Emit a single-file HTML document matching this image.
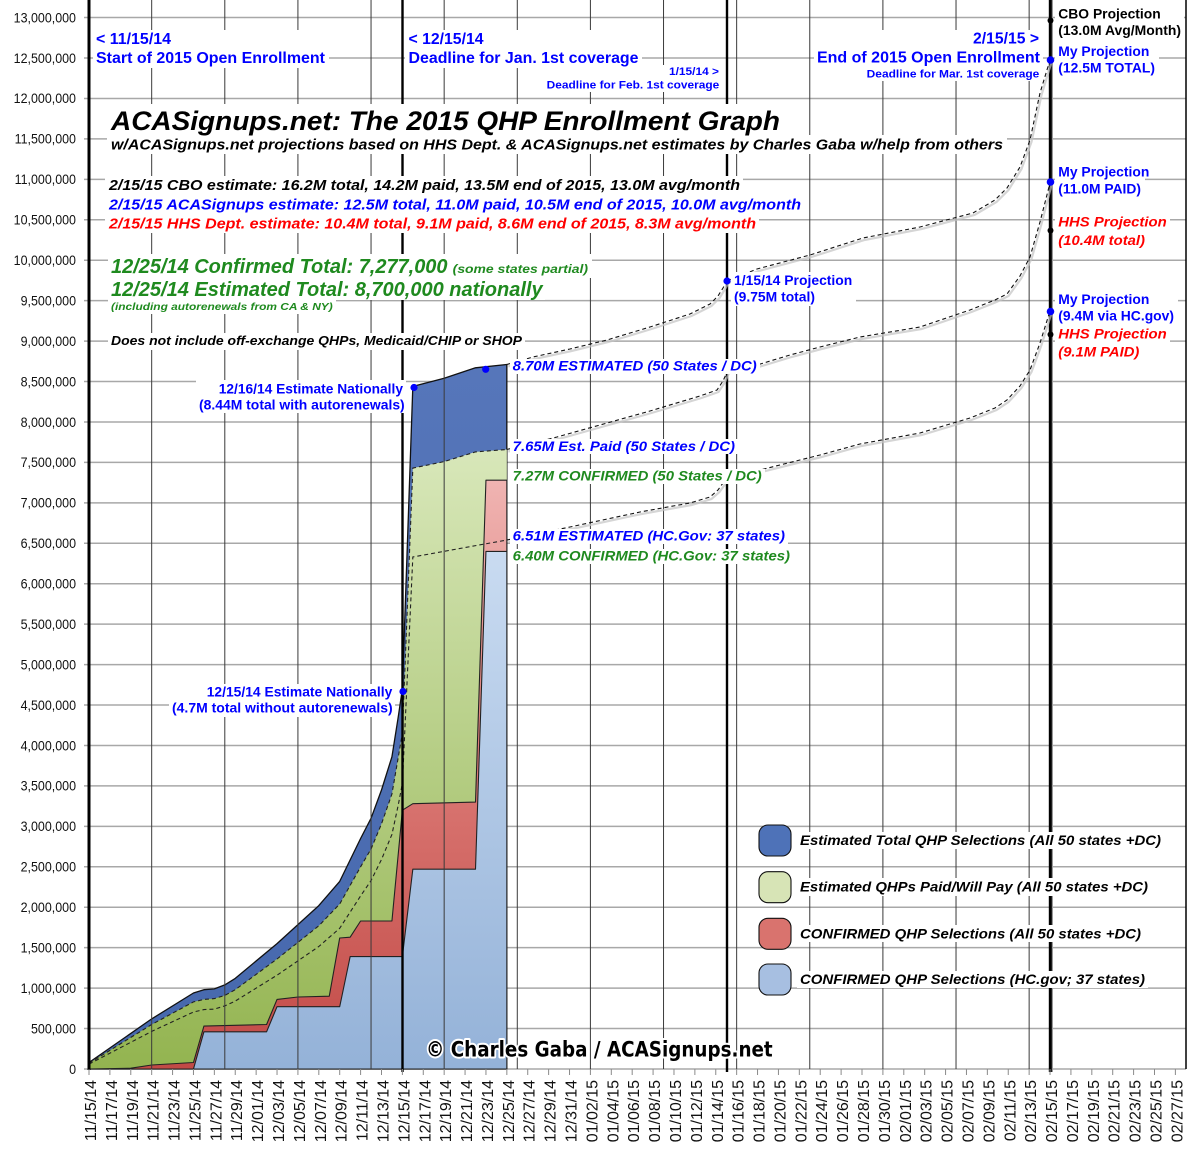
<!DOCTYPE html>
<html><head><meta charset="utf-8"><style>
html,body{margin:0;padding:0;background:#fff;}
svg{display:block;}
text{font-family:"Liberation Sans",Arial,sans-serif;}
.b{font-weight:bold;}
.bi{font-weight:bold;font-style:italic;}
.blue{fill:#0000ff;}
.red{fill:#ff0000;}
.grn{fill:#1f8a1f;}
.blk{fill:#000;}
</style></head><body>
<svg width="1200" height="1150" viewBox="0 0 1200 1150" xmlns="http://www.w3.org/2000/svg">
<defs>
<linearGradient id="gG" gradientUnits="userSpaceOnUse" x1="0" y1="440" x2="0" y2="1069">
<stop offset="0" stop-color="#d9e8bb"/><stop offset="1" stop-color="#93b450"/></linearGradient>
<linearGradient id="gR" gradientUnits="userSpaceOnUse" x1="0" y1="480" x2="0" y2="1069">
<stop offset="0" stop-color="#f0b4b2"/><stop offset="0.45" stop-color="#dc7b77"/><stop offset="1" stop-color="#c24a46"/></linearGradient>
<linearGradient id="gL" gradientUnits="userSpaceOnUse" x1="0" y1="550" x2="0" y2="1069">
<stop offset="0" stop-color="#c9dbf1"/><stop offset="1" stop-color="#94b2d8"/></linearGradient>
<linearGradient id="gB" gradientUnits="userSpaceOnUse" x1="0" y1="360" x2="0" y2="1069">
<stop offset="0" stop-color="#5676ba"/><stop offset="1" stop-color="#4668ad"/></linearGradient>
</defs>
<rect width="1200" height="1150" fill="#fff"/>

<!-- horizontal gridlines -->
<g stroke="#a8a8a8" stroke-width="1.5">
<line x1="84" x2="1186" y1="1069" y2="1069"/>
<line x1="84" x2="1186" y1="1028.56" y2="1028.56"/>
<line x1="84" x2="1186" y1="988.12" y2="988.12"/>
<line x1="84" x2="1186" y1="947.68" y2="947.68"/>
<line x1="84" x2="1186" y1="907.24" y2="907.24"/>
<line x1="84" x2="1186" y1="866.8" y2="866.8"/>
<line x1="84" x2="1186" y1="826.36" y2="826.36"/>
<line x1="84" x2="1186" y1="785.92" y2="785.92"/>
<line x1="84" x2="1186" y1="745.48" y2="745.48"/>
<line x1="84" x2="1186" y1="705.04" y2="705.04"/>
<line x1="84" x2="1186" y1="664.6" y2="664.6"/>
<line x1="84" x2="1186" y1="624.16" y2="624.16"/>
<line x1="84" x2="1186" y1="583.72" y2="583.72"/>
<line x1="84" x2="1186" y1="543.28" y2="543.28"/>
<line x1="84" x2="1186" y1="502.84" y2="502.84"/>
<line x1="84" x2="1186" y1="462.4" y2="462.4"/>
<line x1="84" x2="1186" y1="421.96" y2="421.96"/>
<line x1="84" x2="1186" y1="381.52" y2="381.52"/>
<line x1="84" x2="1186" y1="341.08" y2="341.08"/>
<line x1="84" x2="1186" y1="300.64" y2="300.64"/>
<line x1="84" x2="1186" y1="260.2" y2="260.2"/>
<line x1="84" x2="1186" y1="219.76" y2="219.76"/>
<line x1="84" x2="1186" y1="179.32" y2="179.32"/>
<line x1="84" x2="1186" y1="138.88" y2="138.88"/>
<line x1="84" x2="1186" y1="98.44" y2="98.44"/>
<line x1="84" x2="1186" y1="58" y2="58"/>
<line x1="84" x2="1186" y1="17.56" y2="17.56"/>
</g>

<!-- y labels -->
<g transform="translate(76,0) scale(0.89,1)" font-size="14" text-anchor="end" fill="#111">
<text x="0" y="1073.8">0</text>
<text x="0" y="1033.4">500,000</text>
<text x="0" y="992.9">1,000,000</text>
<text x="0" y="952.5">1,500,000</text>
<text x="0" y="912">2,000,000</text>
<text x="0" y="871.6">2,500,000</text>
<text x="0" y="831.2">3,000,000</text>
<text x="0" y="790.7">3,500,000</text>
<text x="0" y="750.3">4,000,000</text>
<text x="0" y="709.8">4,500,000</text>
<text x="0" y="669.4">5,000,000</text>
<text x="0" y="629">5,500,000</text>
<text x="0" y="588.5">6,000,000</text>
<text x="0" y="548.1">6,500,000</text>
<text x="0" y="507.6">7,000,000</text>
<text x="0" y="467.2">7,500,000</text>
<text x="0" y="426.8">8,000,000</text>
<text x="0" y="386.3">8,500,000</text>
<text x="0" y="345.9">9,000,000</text>
<text x="0" y="305.4">9,500,000</text>
<text x="0" y="265">10,000,000</text>
<text x="0" y="224.6">10,500,000</text>
<text x="0" y="184.1">11,000,000</text>
<text x="0" y="143.7">11,500,000</text>
<text x="0" y="103.2">12,000,000</text>
<text x="0" y="62.8">12,500,000</text>
<text x="0" y="22.4">13,000,000</text>
</g>

<!-- areas -->
<polygon fill="url(#gB)" stroke="#111" stroke-width="1.3" stroke-linejoin="round" points="89,1069 89,1062.5 151.68,1018.9 193.46,993.0 203.91,989.7 214.35,988.9 224.80,984.9 235.24,978.4 277.03,943.6 318.81,905.6 339.70,881.4 360.60,838.5 371.04,818.3 381.49,790.0 391.93,756.8 398.2,717.2 402.38,688.9 412.83,386.4 444.16,378.3 475.50,367.8 506.84,364.5 506.84,1069"/>
<polygon fill="url(#gG)" stroke="none" points="89,1069 89,1063.3 151.68,1024.5 193.46,1001.9 203.91,999.4 214.35,998.6 224.80,995.4 235.24,989.7 277.03,959.0 318.81,925.8 339.70,904.0 360.60,866.8 371.04,849.0 381.49,823.9 391.93,794.0 398.2,757.6 402.38,733.3 412.83,468.1 444.16,461.6 475.50,451.9 506.84,449.5 506.84,1069"/>
<polyline fill="none" stroke="#222" stroke-width="1.1" stroke-dasharray="4,3" points="89,1063.3 151.68,1024.5 193.46,1001.9 203.91,999.4 214.35,998.6 224.80,995.4 235.24,989.7 277.03,959.0 318.81,925.8 339.70,904.0 360.60,866.8 371.04,849.0 381.49,823.9 391.93,794.0 398.2,757.6 402.38,733.3 412.83,468.1 444.16,461.6 475.50,451.9 506.84,449.5"/>
<polygon fill="url(#gR)" stroke="#222" stroke-width="1.1" stroke-linejoin="round" points="89,1069 130.78,1068.2 151.68,1065 193.46,1062.5 203.91,1026.1 266.58,1024.5 277.03,999.4 297.92,997.0 329.26,996.2 339.70,938.0 350.15,937.2 360.60,921.0 391.93,921.0 402.38,810.2 412.83,803.7 475.50,802.1 485.95,480.2 506.84,480.2 506.84,1069"/>
<polygon fill="url(#gL)" stroke="#222" stroke-width="1.1" stroke-linejoin="round" points="193.46,1069 203.91,1031.8 266.58,1031.8 277.03,1006.7 339.70,1006.7 350.15,956.6 402.38,956.6 412.83,869.2 475.50,869.2 485.95,551.4 506.84,551.4 506.84,1069"/>
<polyline fill="none" stroke="#222" stroke-width="1.1" stroke-dasharray="4,3" points="89,1064.1 151.68,1031.4 193.46,1012.0 203.91,1009.6 214.35,1009.1 224.80,1005.9 235.24,1001.1 277.03,975.2 318.81,946.5 339.70,928.3 360.60,895.9 371.04,880.6 381.49,859.5 391.93,834.4 398.2,805.3 402.38,783.5 412.83,557.0 506.84,540.0"/>

<!-- vertical weekly gridlines -->
<g stroke="#3a3a3a" stroke-width="1">
<line x1="151.68" x2="151.68" y1="0" y2="1069"/>
<line x1="224.8" x2="224.8" y1="0" y2="1069"/>
<line x1="297.92" x2="297.92" y1="0" y2="1069"/>
<line x1="371.04" x2="371.04" y1="0" y2="1069"/>
<line x1="444.16" x2="444.16" y1="0" y2="1069"/>
<line x1="517.29" x2="517.29" y1="0" y2="1069"/>
<line x1="590.41" x2="590.41" y1="0" y2="1069"/>
<line x1="663.53" x2="663.53" y1="0" y2="1069"/>
<line x1="736.65" x2="736.65" y1="0" y2="1069"/>
<line x1="809.77" x2="809.77" y1="0" y2="1069"/>
<line x1="882.9" x2="882.9" y1="0" y2="1069"/>
<line x1="956.02" x2="956.02" y1="0" y2="1069"/>
<line x1="1029.14" x2="1029.14" y1="0" y2="1069"/>
</g>
<!-- thick lines -->
<line x1="89" x2="89" y1="0" y2="1070" stroke="#000" stroke-width="3"/>
<line x1="402.5" x2="402.5" y1="0" y2="1072" stroke="#000" stroke-width="2.4"/>
<line x1="727" x2="727" y1="0" y2="1072" stroke="#000" stroke-width="2.4"/>
<line x1="1052" x2="1052" y1="0" y2="1072" stroke="#999" stroke-width="2"/>
<line x1="1050.3" x2="1050.3" y1="0" y2="1072" stroke="#000" stroke-width="3"/>
<line x1="1186" x2="1186" y1="0" y2="1069" stroke="#000" stroke-width="1.5"/>

<!-- projection dashed lines -->
<g fill="none" stroke="#c4c4c4" stroke-width="2.2" transform="translate(1.5,2)" opacity="0.7">
<path d="M506.8,364.5 L533,357 L570,349 L607,340 L650,327 L690,314 L710,304 L718,296 L723,288 L727,281 L757,269 L810,255 L863,238 L920,227 L973,213 L995,200 L1007,188 L1020,167 L1030,140 L1040,93 L1050,60"/>
<path d="M506.8,449.5 L557,437 L600,425 L650,411 L700,396 L717,390 L723,381 L728,370 L757,365 L790,355 L820,347 L860,337 L920,327 L970,310 L995,300 L1007,294 L1020,276 L1030,257 L1040,222 L1050,183"/>
<path d="M506.8,540 L570,527 L640,512 L690,503 L710,497 L718,490 L723,483 L728,473 L760,470 L820,455 L860,444 L920,433 L970,418 L995,408 L1007,400 L1020,386 L1030,370 L1040,343 L1050,311"/>
</g>
<g fill="none" stroke="#111" stroke-width="1.1" stroke-dasharray="4,3">
<path d="M506.8,364.5 L533,357 L570,349 L607,340 L650,327 L690,314 L710,304 L718,296 L723,288 L727,281 L757,269 L810,255 L863,238 L920,227 L973,213 L995,200 L1007,188 L1020,167 L1030,140 L1040,93 L1050,60"/>
<path d="M506.8,449.5 L557,437 L600,425 L650,411 L700,396 L717,390 L723,381 L728,370 L757,365 L790,355 L820,347 L860,337 L920,327 L970,310 L995,300 L1007,294 L1020,276 L1030,257 L1040,222 L1050,183"/>
<path d="M506.8,540 L570,527 L640,512 L690,503 L710,497 L718,490 L723,483 L728,473 L760,470 L820,455 L860,444 L920,433 L970,418 L995,408 L1007,400 L1020,386 L1030,370 L1040,343 L1050,311"/>
</g>

<!-- x ticks -->
<g stroke="#8a8a8a" stroke-width="1">
<line x1="89" x2="89" y1="1069" y2="1075"/><line x1="109.89" x2="109.89" y1="1069" y2="1075"/><line x1="130.78" x2="130.78" y1="1069" y2="1075"/><line x1="151.68" x2="151.68" y1="1069" y2="1075"/><line x1="172.57" x2="172.57" y1="1069" y2="1075"/><line x1="193.46" x2="193.46" y1="1069" y2="1075"/><line x1="214.35" x2="214.35" y1="1069" y2="1075"/><line x1="235.24" x2="235.24" y1="1069" y2="1075"/><line x1="256.14" x2="256.14" y1="1069" y2="1075"/><line x1="277.03" x2="277.03" y1="1069" y2="1075"/><line x1="297.92" x2="297.92" y1="1069" y2="1075"/><line x1="318.81" x2="318.81" y1="1069" y2="1075"/><line x1="339.7" x2="339.7" y1="1069" y2="1075"/><line x1="360.6" x2="360.6" y1="1069" y2="1075"/><line x1="381.49" x2="381.49" y1="1069" y2="1075"/><line x1="402.38" x2="402.38" y1="1069" y2="1075"/><line x1="423.27" x2="423.27" y1="1069" y2="1075"/><line x1="444.16" x2="444.16" y1="1069" y2="1075"/><line x1="465.06" x2="465.06" y1="1069" y2="1075"/><line x1="485.95" x2="485.95" y1="1069" y2="1075"/><line x1="506.84" x2="506.84" y1="1069" y2="1075"/><line x1="527.73" x2="527.73" y1="1069" y2="1075"/><line x1="548.62" x2="548.62" y1="1069" y2="1075"/><line x1="569.52" x2="569.52" y1="1069" y2="1075"/><line x1="590.41" x2="590.41" y1="1069" y2="1075"/><line x1="611.3" x2="611.3" y1="1069" y2="1075"/><line x1="632.19" x2="632.19" y1="1069" y2="1075"/><line x1="653.08" x2="653.08" y1="1069" y2="1075"/><line x1="673.98" x2="673.98" y1="1069" y2="1075"/><line x1="694.87" x2="694.87" y1="1069" y2="1075"/><line x1="715.76" x2="715.76" y1="1069" y2="1075"/><line x1="736.65" x2="736.65" y1="1069" y2="1075"/><line x1="757.54" x2="757.54" y1="1069" y2="1075"/><line x1="778.44" x2="778.44" y1="1069" y2="1075"/><line x1="799.33" x2="799.33" y1="1069" y2="1075"/><line x1="820.22" x2="820.22" y1="1069" y2="1075"/><line x1="841.11" x2="841.11" y1="1069" y2="1075"/><line x1="862" x2="862" y1="1069" y2="1075"/><line x1="882.9" x2="882.9" y1="1069" y2="1075"/><line x1="903.79" x2="903.79" y1="1069" y2="1075"/><line x1="924.68" x2="924.68" y1="1069" y2="1075"/><line x1="945.57" x2="945.57" y1="1069" y2="1075"/><line x1="966.46" x2="966.46" y1="1069" y2="1075"/><line x1="987.36" x2="987.36" y1="1069" y2="1075"/><line x1="1008.25" x2="1008.25" y1="1069" y2="1075"/><line x1="1029.14" x2="1029.14" y1="1069" y2="1075"/><line x1="1050.03" x2="1050.03" y1="1069" y2="1075"/><line x1="1070.92" x2="1070.92" y1="1069" y2="1075"/><line x1="1091.82" x2="1091.82" y1="1069" y2="1075"/><line x1="1112.71" x2="1112.71" y1="1069" y2="1075"/><line x1="1133.6" x2="1133.6" y1="1069" y2="1075"/><line x1="1154.49" x2="1154.49" y1="1069" y2="1075"/><line x1="1175.38" x2="1175.38" y1="1069" y2="1075"/>
</g>

<!-- x labels -->
<g font-size="16" text-anchor="end" fill="#111">
<text transform="translate(96,1080) rotate(-90)">11/15/14</text>
<text transform="translate(116.89,1080) rotate(-90)">11/17/14</text>
<text transform="translate(137.78,1080) rotate(-90)">11/19/14</text>
<text transform="translate(158.68,1080) rotate(-90)">11/21/14</text>
<text transform="translate(179.57,1080) rotate(-90)">11/23/14</text>
<text transform="translate(200.46,1080) rotate(-90)">11/25/14</text>
<text transform="translate(221.35,1080) rotate(-90)">11/27/14</text>
<text transform="translate(242.24,1080) rotate(-90)">11/29/14</text>
<text transform="translate(263.14,1080) rotate(-90)">12/01/14</text>
<text transform="translate(284.03,1080) rotate(-90)">12/03/14</text>
<text transform="translate(304.92,1080) rotate(-90)">12/05/14</text>
<text transform="translate(325.81,1080) rotate(-90)">12/07/14</text>
<text transform="translate(346.7,1080) rotate(-90)">12/09/14</text>
<text transform="translate(367.6,1080) rotate(-90)">12/11/14</text>
<text transform="translate(388.49,1080) rotate(-90)">12/13/14</text>
<text transform="translate(409.38,1080) rotate(-90)">12/15/14</text>
<text transform="translate(430.27,1080) rotate(-90)">12/17/14</text>
<text transform="translate(451.16,1080) rotate(-90)">12/19/14</text>
<text transform="translate(472.06,1080) rotate(-90)">12/21/14</text>
<text transform="translate(492.95,1080) rotate(-90)">12/23/14</text>
<text transform="translate(513.84,1080) rotate(-90)">12/25/14</text>
<text transform="translate(534.73,1080) rotate(-90)">12/27/14</text>
<text transform="translate(555.62,1080) rotate(-90)">12/29/14</text>
<text transform="translate(576.52,1080) rotate(-90)">12/31/14</text>
<text transform="translate(597.41,1080) rotate(-90)">01/02/15</text>
<text transform="translate(618.3,1080) rotate(-90)">01/04/15</text>
<text transform="translate(639.19,1080) rotate(-90)">01/06/15</text>
<text transform="translate(660.08,1080) rotate(-90)">01/08/15</text>
<text transform="translate(680.98,1080) rotate(-90)">01/10/15</text>
<text transform="translate(701.87,1080) rotate(-90)">01/12/15</text>
<text transform="translate(722.76,1080) rotate(-90)">01/14/15</text>
<text transform="translate(743.65,1080) rotate(-90)">01/16/15</text>
<text transform="translate(764.54,1080) rotate(-90)">01/18/15</text>
<text transform="translate(785.44,1080) rotate(-90)">01/20/15</text>
<text transform="translate(806.33,1080) rotate(-90)">01/22/15</text>
<text transform="translate(827.22,1080) rotate(-90)">01/24/15</text>
<text transform="translate(848.11,1080) rotate(-90)">01/26/15</text>
<text transform="translate(869,1080) rotate(-90)">01/28/15</text>
<text transform="translate(889.9,1080) rotate(-90)">01/30/15</text>
<text transform="translate(910.79,1080) rotate(-90)">02/01/15</text>
<text transform="translate(931.68,1080) rotate(-90)">02/03/15</text>
<text transform="translate(952.57,1080) rotate(-90)">02/05/15</text>
<text transform="translate(973.46,1080) rotate(-90)">02/07/15</text>
<text transform="translate(994.36,1080) rotate(-90)">02/09/15</text>
<text transform="translate(1015.25,1080) rotate(-90)">02/11/15</text>
<text transform="translate(1036.14,1080) rotate(-90)">02/13/15</text>
<text transform="translate(1057.03,1080) rotate(-90)">02/15/15</text>
<text transform="translate(1077.92,1080) rotate(-90)">02/17/15</text>
<text transform="translate(1098.82,1080) rotate(-90)">02/19/15</text>
<text transform="translate(1119.71,1080) rotate(-90)">02/21/15</text>
<text transform="translate(1140.6,1080) rotate(-90)">02/23/15</text>
<text transform="translate(1161.49,1080) rotate(-90)">02/25/15</text>
<text transform="translate(1182.38,1080) rotate(-90)">02/27/15</text>
</g>

<!-- white backgrounds for text -->
<g fill="#fff">
<rect x="93" y="30" width="236" height="38"/>
<rect x="405" y="30" width="237" height="38"/>
<rect x="544" y="65" width="178" height="27"/>
<rect x="814" y="30" width="229" height="51"/>
<rect x="1055" y="5" width="129" height="34"/>
<rect x="1055" y="43" width="104" height="34"/>
<rect x="1055" y="164" width="90" height="34"/>
<rect x="1055" y="213" width="115" height="36"/>
<rect x="1055" y="291" width="123" height="33"/>
<rect x="1055" y="325" width="115" height="36"/>
<rect x="731" y="272" width="125" height="34"/>
<rect x="107" y="104" width="677" height="31"/>
<rect x="107" y="135" width="900" height="19"/>
<rect x="105" y="176" width="638" height="18"/>
<rect x="105" y="194" width="699" height="19"/>
<rect x="105" y="213" width="654" height="20"/>
<rect x="108" y="254" width="484" height="24"/>
<rect x="108" y="278" width="437" height="22"/>
<rect x="108" y="300" width="228" height="14"/>
<rect x="108" y="333" width="417" height="17"/>
<rect x="196" y="380" width="210" height="33"/>
<rect x="169" y="684" width="226" height="33"/>
<rect x="510" y="359" width="250" height="15"/>
<rect x="510" y="439" width="228" height="15"/>
<rect x="510" y="469" width="255" height="15"/>
<rect x="510" y="529" width="278" height="15"/>
<rect x="510" y="549" width="283" height="15"/>
<rect x="797" y="832" width="368" height="17"/>
<rect x="797" y="878" width="355" height="18"/>
<rect x="797" y="925" width="347" height="17"/>
<rect x="797" y="971" width="351" height="17"/>
</g>

<!-- top labels -->
<g class="b blue" font-size="16">
<text x="96" y="44" textLength="75" lengthAdjust="spacingAndGlyphs">&lt; 11/15/14</text>
<text x="96" y="63" textLength="229" lengthAdjust="spacingAndGlyphs">Start of 2015 Open Enrollment</text>
<text x="408.5" y="44" textLength="75" lengthAdjust="spacingAndGlyphs">&lt; 12/15/14</text>
<text x="408.5" y="63" textLength="230" lengthAdjust="spacingAndGlyphs">Deadline for Jan. 1st coverage</text>
<text x="973" y="43.3" textLength="66" lengthAdjust="spacingAndGlyphs">2/15/15 &gt;</text>
<text x="817" y="62.7" textLength="223" lengthAdjust="spacingAndGlyphs">End of 2015 Open Enrollment</text>
</g>
<g class="b blue" font-size="11">
<text x="669" y="75" textLength="50" lengthAdjust="spacingAndGlyphs">1/15/14 &gt;</text>
<text x="546.7" y="88.3" textLength="172.6" lengthAdjust="spacingAndGlyphs">Deadline for Feb. 1st coverage</text>
<text x="866.7" y="77.3" textLength="172.6" lengthAdjust="spacingAndGlyphs">Deadline for Mar. 1st coverage</text>
</g>

<!-- right projections -->
<g font-size="13.5">
<text class="b blk" x="1058.3" y="18.3" textLength="102.4" lengthAdjust="spacingAndGlyphs">CBO Projection</text>
<text class="b blk" x="1058.3" y="35" textLength="122.7" lengthAdjust="spacingAndGlyphs">(13.0M Avg/Month)</text>
<text class="b blue" x="1058.3" y="56" textLength="91" lengthAdjust="spacingAndGlyphs">My Projection</text>
<text class="b blue" x="1058.3" y="72.7" textLength="96.7" lengthAdjust="spacingAndGlyphs">(12.5M TOTAL)</text>
<text class="b blue" x="1058.3" y="176.7" textLength="91" lengthAdjust="spacingAndGlyphs">My Projection</text>
<text class="b blue" x="1058.3" y="193.3" textLength="82.7" lengthAdjust="spacingAndGlyphs">(11.0M PAID)</text>
<text class="bi red" x="1058.3" y="226.7" textLength="108.4" lengthAdjust="spacingAndGlyphs">HHS Projection</text>
<text class="bi red" x="1058.3" y="245" textLength="86.7" lengthAdjust="spacingAndGlyphs">(10.4M total)</text>
<text class="b blue" x="1058.3" y="304" textLength="91" lengthAdjust="spacingAndGlyphs">My Projection</text>
<text class="b blue" x="1058.3" y="320.7" textLength="115.7" lengthAdjust="spacingAndGlyphs">(9.4M via HC.gov)</text>
<text class="bi red" x="1058.3" y="338.3" textLength="108.4" lengthAdjust="spacingAndGlyphs">HHS Projection</text>
<text class="bi red" x="1058.3" y="356.7" textLength="81" lengthAdjust="spacingAndGlyphs">(9.1M PAID)</text>
<text class="b blue" x="734" y="285" textLength="118.3" lengthAdjust="spacingAndGlyphs">1/15/14 Projection</text>
<text class="b blue" x="734" y="301.7" textLength="81" lengthAdjust="spacingAndGlyphs">(9.75M total)</text>
</g>

<!-- title block -->
<text class="bi blk" x="111" y="130" font-size="26.5" textLength="669" lengthAdjust="spacingAndGlyphs">ACASignups.net: The 2015 QHP Enrollment Graph</text>
<text class="bi blk" x="111" y="149.3" font-size="14.5" textLength="892" lengthAdjust="spacingAndGlyphs">w/ACASignups.net projections based on HHS Dept. &amp; ACASignups.net estimates by Charles Gaba w/help from others</text>
<text class="bi blk" x="109" y="190" font-size="14.5" textLength="631" lengthAdjust="spacingAndGlyphs">2/15/15 CBO estimate: 16.2M total, 14.2M paid, 13.5M end of 2015, 13.0M avg/month</text>
<text class="bi blue" x="109" y="209.3" font-size="14.5" textLength="692" lengthAdjust="spacingAndGlyphs">2/15/15 ACASignups estimate: 12.5M total, 11.0M paid, 10.5M end of 2015, 10.0M avg/month</text>
<text class="bi red" x="109" y="228.3" font-size="14.5" textLength="647" lengthAdjust="spacingAndGlyphs">2/15/15 HHS Dept. estimate: 10.4M total, 9.1M paid, 8.6M end of 2015, 8.3M avg/month</text>
<text class="bi grn" x="111" y="273" font-size="20" textLength="336.5" lengthAdjust="spacingAndGlyphs">12/25/14 Confirmed Total: 7,277,000</text>
<text class="bi grn" x="452.7" y="273" font-size="12" textLength="135.3" lengthAdjust="spacingAndGlyphs">(some states partial)</text>
<text class="bi grn" x="111" y="296" font-size="20" textLength="431.6" lengthAdjust="spacingAndGlyphs">12/25/14 Estimated Total: 8,700,000 nationally</text>
<text class="bi grn" x="111" y="310" font-size="10.5" textLength="221.7" lengthAdjust="spacingAndGlyphs">(including autorenewals from CA &amp; NY)</text>
<text class="bi blk" x="111" y="345" font-size="13" textLength="411" lengthAdjust="spacingAndGlyphs">Does not include off-exchange QHPs, Medicaid/CHIP or SHOP</text>

<!-- notes -->
<g class="b blue" font-size="14">
<text x="218.7" y="393.3" textLength="184.3" lengthAdjust="spacingAndGlyphs">12/16/14 Estimate Nationally</text>
<text x="199" y="409.5" textLength="205.7" lengthAdjust="spacingAndGlyphs">(8.44M total with autorenewals)</text>
<text x="206.7" y="696.7" textLength="185.6" lengthAdjust="spacingAndGlyphs">12/15/14 Estimate Nationally</text>
<text x="172" y="712.7" textLength="220.7" lengthAdjust="spacingAndGlyphs">(4.7M total without autorenewals)</text>
</g>

<!-- labels right of stack -->
<g font-size="14">
<text class="bi blue" x="512.7" y="370.7" textLength="244" lengthAdjust="spacingAndGlyphs">8.70M ESTIMATED (50 States / DC)</text>
<text class="bi blue" x="512.7" y="451" textLength="222.3" lengthAdjust="spacingAndGlyphs">7.65M Est. Paid (50 States / DC)</text>
<text class="bi grn" x="512.7" y="480.7" textLength="249" lengthAdjust="spacingAndGlyphs">7.27M CONFIRMED (50 States / DC)</text>
<text class="bi blue" x="512.7" y="540.7" textLength="272.3" lengthAdjust="spacingAndGlyphs">6.51M ESTIMATED (HC.Gov: 37 states)</text>
<text class="bi grn" x="512.7" y="560.7" textLength="277.3" lengthAdjust="spacingAndGlyphs">6.40M CONFIRMED (HC.Gov: 37 states)</text>
</g>

<!-- dots -->
<g fill="#0000ff">
<circle cx="414" cy="387.5" r="3.6"/>
<circle cx="485.7" cy="369.3" r="3.6"/>
<circle cx="403" cy="691.5" r="3.6"/>
<circle cx="727" cy="281" r="3.6"/>
<circle cx="1050.5" cy="60" r="3.8"/>
<circle cx="1050.5" cy="182" r="3.8"/>
<circle cx="1050.5" cy="311.5" r="3.8"/>
</g>
<g fill="#000">
<circle cx="1050.5" cy="20.5" r="3"/>
<circle cx="1050.5" cy="230.5" r="3"/>
<circle cx="1050.5" cy="334.5" r="3"/>
</g>

<!-- legend -->
<g stroke="#111" stroke-width="1.1">
<rect x="759" y="825" width="32" height="31" rx="9" fill="#4e72b8"/>
<rect x="759" y="871.7" width="32" height="31" rx="9" fill="#d7e4b6"/>
<rect x="759" y="918.3" width="32" height="31" rx="9" fill="#d9736e"/>
<rect x="759" y="964" width="32" height="31" rx="9" fill="#a7bfe1"/>
</g>
<g class="bi blk" font-size="14">
<text x="800" y="845" textLength="361" lengthAdjust="spacingAndGlyphs">Estimated Total QHP Selections (All 50 states +DC)</text>
<text x="800" y="891.7" textLength="348" lengthAdjust="spacingAndGlyphs">Estimated QHPs Paid/Will Pay (All 50 states +DC)</text>
<text x="800" y="938.3" textLength="341" lengthAdjust="spacingAndGlyphs">CONFIRMED QHP Selections (All 50 states +DC)</text>
<text x="800" y="984" textLength="345" lengthAdjust="spacingAndGlyphs">CONFIRMED QHP Selections (HC.gov; 37 states)</text>
</g>

<!-- copyright -->
<text x="426" y="1056.7" font-size="21" font-weight="bold" style="font-family:'DejaVu Sans','Liberation Sans',sans-serif" fill="#000" stroke="#fff" stroke-width="4" stroke-linejoin="round" paint-order="stroke" textLength="346.7" lengthAdjust="spacingAndGlyphs">© Charles Gaba / ACASignups.net</text>
</svg>
</body></html>
